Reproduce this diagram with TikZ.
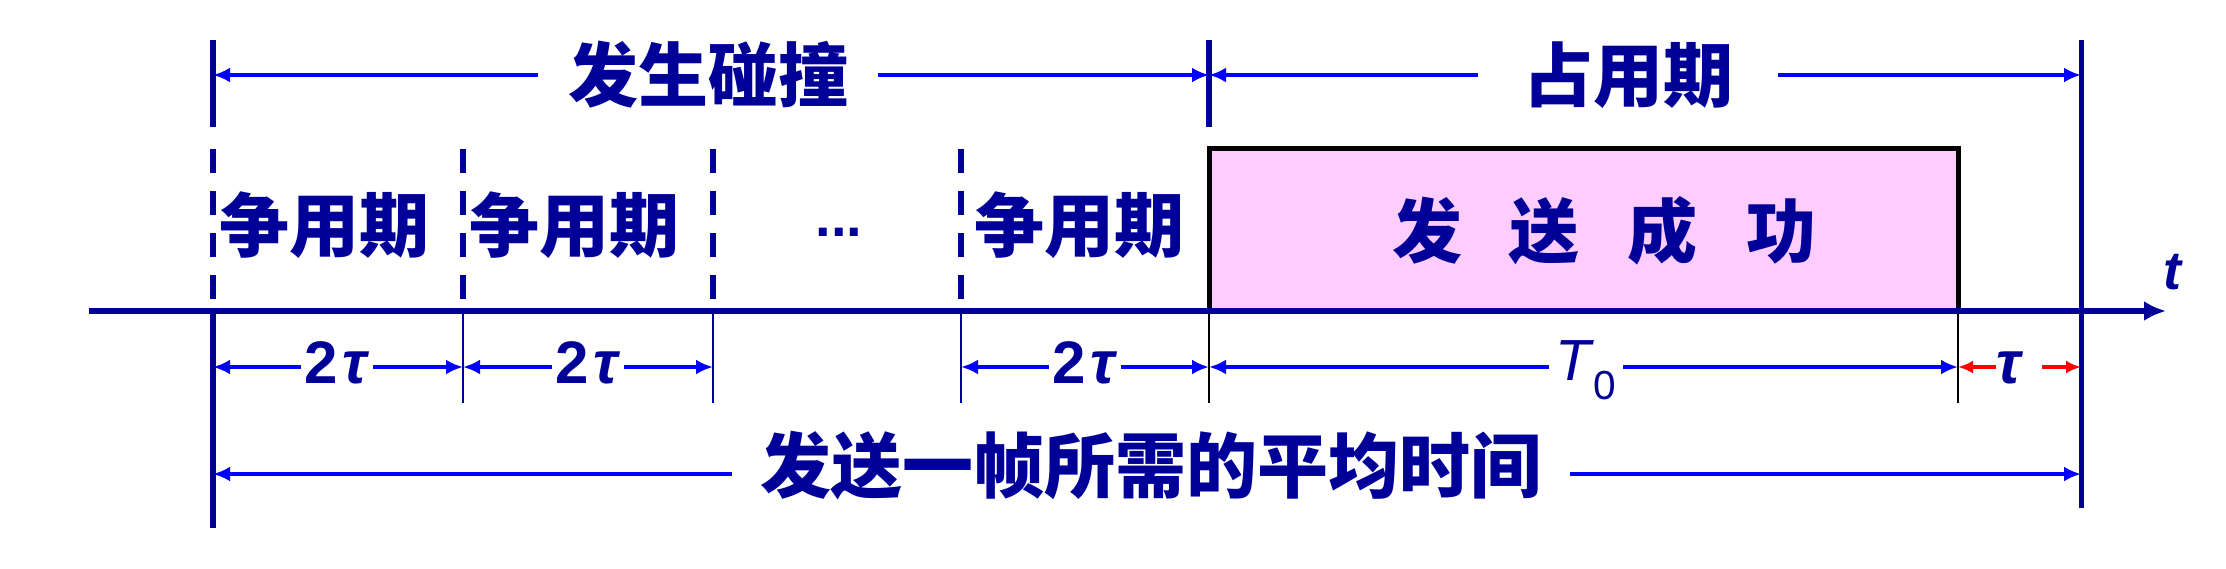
\documentclass[tikz,border=0pt]{standalone}
\usepackage{fontspec}
\setmainfont{Liberation Sans}
\newfontfamily\zhfont{Noto Sans CJK SC}
\usepackage{xcolor}
\usetikzlibrary{arrows.meta}
\definecolor{txtblue}{RGB}{0,0,153}
\definecolor{arrblue}{RGB}{0,0,255}
\definecolor{boxpink}{RGB}{255,204,255}

\begin{document}
\begin{tikzpicture}[x=1pt,y=-1pt,
    zh/.style={font=\zhfont\bfseries\fontsize{70}{84}\selectfont,text=txtblue,inner sep=0pt},
    lat/.style={font=\bfseries\fontsize{60}{72}\selectfont,text=txtblue,inner sep=4pt,anchor=base},
    bar/.style={txtblue,line width=6pt},
    dim/.style={arrblue,line width=4pt,-{Latex[length=17pt,width=15pt]}},
    reddim/.style={red,line width=4pt,-{Latex[length=15pt,width=13pt]}},
    tick/.style={txtblue,line width=1.8pt}]
        \useasboundingbox (0,0) rectangle (2226,568);

        \fill[boxpink] (1209,148) rectangle (1958,311);
        \draw[line width=5pt] (1209,311) -- (1209,148) -- (1958,148) -- (1958,311);

        \draw[bar] (213,40) -- (213,127);
        \draw[bar] (1209,40) -- (1209,127);
        \draw[bar,line width=5pt] (2081,40) -- (2081,508);
        \draw[bar] (213,312) -- (213,528);
        \foreach \x in {213,463,713,961}
          \draw[bar,dash pattern=on 24pt off 18pt] (\x,149) -- (\x,299);

        \draw[tick] (463,313) -- (463,403);
        \draw[tick] (713,313) -- (713,403);
        \draw[tick] (961,313) -- (961,403);
        \draw[tick,black] (1209,313) -- (1209,403);
        \draw[tick,black] (1958,313) -- (1958,403);

        \draw[bar,-{Latex[length=22pt,width=20pt]}] (89,311) -- (2166,311);
        \node[font=\bfseries\itshape\fontsize{54}{64}\selectfont,text=txtblue] (t) at (2172,272) {t};

        \node[zh,inner xsep=30pt] (collide) at (708,75) {发生碰撞};
        \node[zh,inner xsep=45pt] (occupy) at (1628,75) {占用期};
        \coordinate (c0) at (213,75);
        \coordinate (c1) at (1209,75);
        \coordinate (c2) at (2081,75);
        \draw[dim] (collide.west) -- (c0);
        \draw[dim] (collide.east) -- (c1);
        \draw[dim] (occupy.west) -- (c1);
        \draw[dim] (occupy.east) -- (c2);

        \node[zh] (slot1) at (324,225) {争用期};
        \node[zh] (slot2) at (574,225) {争用期};
        \node[font=\bfseries\fontsize{56}{64}\selectfont,text=txtblue,anchor=base] (dots) at (839,236) {...};
        \node[zh] (slot3) at (1079,225) {争用期};
        \node[zh] (sent) at (1604,231) {发\hspace{48pt}送\hspace{48pt}成\hspace{48pt}功};

        \coordinate (a0) at (213,367);
        \coordinate (a1) at (463,367);
        \coordinate (a2) at (713,367);
        \coordinate (a3) at (961,367);
        \coordinate (a4) at (1209,367);
        \coordinate (a5) at (1958,367);
        \coordinate (a6) at (2081,367);
        \coordinate (p6) at (2042,367);

        \node[lat] (d1) at (337,383) {2\hspace{4pt}\textit{τ}};
        \node[lat] (d2) at (588,383) {2\hspace{4pt}\textit{τ}};
        \node[lat] (d3) at (1085,383) {2\hspace{4pt}\textit{τ}};
        \draw[dim] (d1.west |- a0) -- (a0);
        \draw[dim] (d1.east |- a0) -- (a1);
        \draw[dim] (d2.west |- a0) -- (a1);
        \draw[dim] (d2.east |- a0) -- (a2);
        \draw[dim] (d3.west |- a0) -- (a3);
        \draw[dim] (d3.east |- a0) -- (a4);

        \node[font=\fontsize{58}{66}\selectfont,text=txtblue,anchor=base,inner sep=6pt] (frame) at (1586,380) {\textit{T}\textsubscript{0}};
        \draw[dim] (frame.west |- a0) -- (a4);
        \draw[dim] (frame.east |- a0) -- (a5);

        \node[lat,inner sep=0pt] (prop) at (2010,383) {\textit{τ}};
        \draw[reddim] (prop.west |- a0) -- (a5);
        \draw[reddim] (p6) -- (a6);

        \node[zh,font=\zhfont\bfseries\fontsize{71}{86}\selectfont,inner xsep=28pt] (avg) at (1151,466) {发送一帧所需的平均时间};
        \coordinate (b0) at (213,474);
        \coordinate (b1) at (2081,474);
        \draw[dim] (avg.west |- b0) -- (b0);
        \draw[dim] (avg.east |- b0) -- (b1);
\end{tikzpicture}
\end{document}
